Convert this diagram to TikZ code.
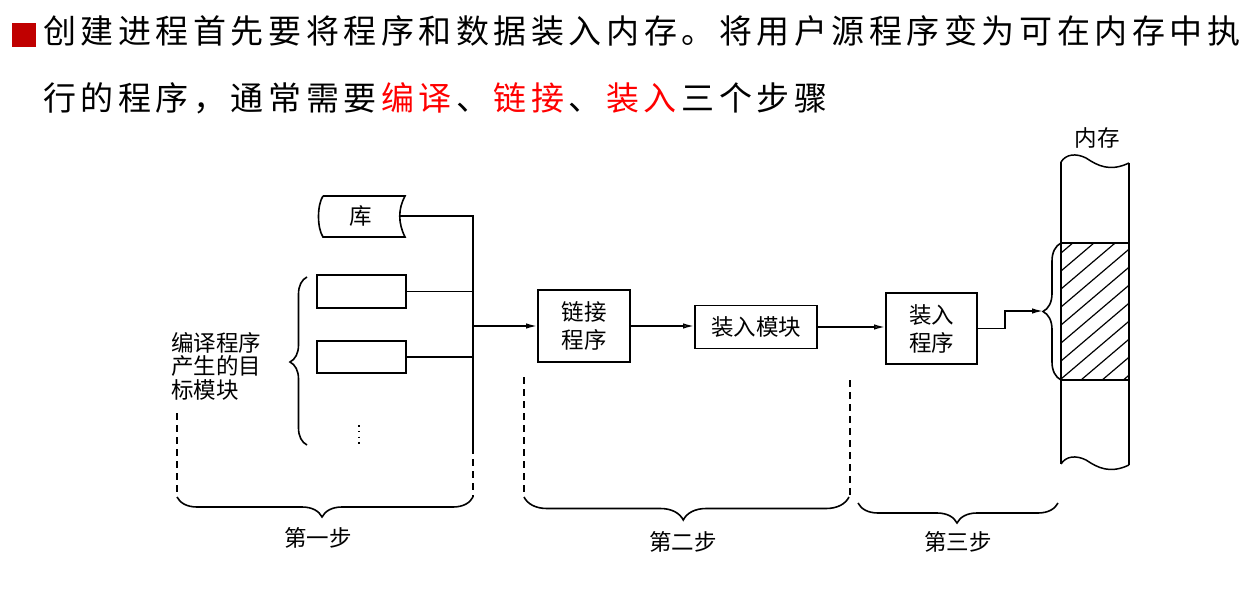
\documentclass[tikz,border=0pt]{standalone}
\usepackage{fontspec}
\setmainfont{Noto Sans CJK SC}
\usetikzlibrary{arrows.meta,decorations.pathreplacing}
\definecolor{bulletred}{HTML}{C00000}
\definecolor{hlred}{HTML}{FF0000}
\def\spc#1{\ifx#1\relax\else#1\hskip4.55pt\expandafter\spc\fi}
\begin{document}
\begin{tikzpicture}[x=1pt,y=-1pt,
  ln/.style={line width=1.5pt},
  box/.style={draw, line width=1.9pt, inner sep=0pt, align=center, font=\fontsize{22.5}{28}\selectfont},
  lbl/.style={font=\fontsize{22.5}{28}\selectfont, align=center, inner sep=0pt},
  dsh/.style={line width=1.5pt, dash pattern=on 7pt off 5pt},
  arr/.style={line width=1.5pt, -{Latex[length=11pt,width=5.5pt]}},
  arro/.style={line width=1.5pt, -{Latex[open,length=11pt,width=5.5pt]}},
  head/.style={anchor=base west, inner sep=0pt, font=\fontsize{33}{40}\selectfont},
]
\fill[white] (0,0) rectangle (1241,593);
\useasboundingbox (0,0) rectangle (1241,593);

% heading
\fill[bulletred] (12,23) rectangle (36,47);
\node[head] (h1) at (43,44) {\spc 创建进程首先要将程序和数据装入内存。将用户源程序变为可在内存中执\relax};
\node[head] (h2) at (43,111) {\spc 行的程序，通常需要\relax\textcolor{hlred}{\spc 编译\relax}\spc 、\relax\textcolor{hlred}{\spc 链接\relax}\spc 、\relax\textcolor{hlred}{\spc 装入\relax}\spc 三个步骤\relax};

% library
\node[lbl] (lib) at (361,216) {库};
\draw[line width=1.6pt] (323,196) -- (405,196) .. controls (398,209) and (398,223) .. (405,237) -- (323,237) .. controls (317,228) and (317,205) .. (323,196);

% object modules
\node[box, minimum width=89pt, minimum height=33pt] (mod1) at (361.5,291.5) {};
\node[box, minimum width=89pt, minimum height=32pt] (mod2) at (361.5,357) {};
\draw[line width=1.8pt, dash pattern=on 1.6pt off 4.2pt] (359,425) -- (359,447);

% bus
\coordinate (libR) at (400,216);
\coordinate (busTop) at (473,216);
\coordinate (busBot) at (473,447);
\coordinate (busEnd) at (473,497);
\coordinate (busOut) at (473,326);
\draw[ln] (libR) -- (busTop) -- (busBot);
\draw[dsh] (busBot) -- (busEnd);
\draw[ln] (mod1.east) -- (mod1.east -| busTop);
\draw[ln] (mod2.east) -- (mod2.east -| busTop);

% left label and brace
\node[lbl, align=left, anchor=west, font=\fontsize{22.5}{23.5}\selectfont] (objtxt) at (171,366) {编译程序\\产生的目\\标模块};
\draw[line width=1.6pt, decorate, decoration={brace, amplitude=17pt, aspect=0.494}] (307,445) -- (307,277);
\draw[dsh] (177,413) -- (177,497);

% main chain
\node[box, minimum width=92pt, minimum height=72pt] (link) at (584,326) {链接\\程序};
\node[box, minimum width=122pt, minimum height=43pt] (loadmod) at (756,327) {装入模块};
\node[box, minimum width=91pt, minimum height=71pt] (loader) at (931.5,328.5) {装入\\程序};
\draw[arr] (busOut) -- (link.west);
\draw[arro] (link.east) -- (link.east -| loadmod.west);
\draw[arro] (loadmod.east) -- (loadmod.east -| loader.west);

% memory
\node[lbl] (mem) at (1097,138) {内存};
\draw[ln] (1061,162) -- (1061,464);
\draw[ln] (1129,163) -- (1129,465);
\draw[ln] (1061,162) .. controls (1066,154) and (1076,153) .. (1086,158) .. controls (1098,166) and (1110,172) .. (1129,163);
\draw[ln] (1061,464) .. controls (1066,456) and (1076,455) .. (1086,460) .. controls (1098,468) and (1110,474) .. (1129,465);
\draw[ln] (1061,243) -- (1129,243);
\draw[ln] (1061,380) -- (1129,380);
\begin{scope}
\clip (1061,243) rectangle (1129,380);
\foreach \k in {0,...,11} \draw[line width=1.2pt] (1061,{253+18*\k}) -- ++(100,-85);
\end{scope}
\draw[line width=1.6pt, decorate, decoration={brace, amplitude=18pt, aspect=0.5}] (1061,380) -- (1061,243);
\coordinate (stepc) at (1005,311);
\coordinate (memtip) at (1043,311);
\draw[arr] (loader.east) -| (stepc) -- (memtip);

% step boundaries
\draw[dsh] (524,377) -- (524,497);
\draw[dsh] (850,380) -- (850,497);

% bottom braces
\draw[line width=1.6pt, decorate, decoration={brace, amplitude=20pt, aspect=0.51}] (473,497) -- (177,497);
\draw[line width=1.6pt, decorate, decoration={brace, amplitude=23pt, aspect=0.51}] (849,497) -- (524,497);
\draw[line width=1.6pt, decorate, decoration={brace, amplitude=20pt, aspect=0.505}] (1058,503) -- (858,503);
\node[lbl] (s1) at (318,538) {第一步};
\node[lbl] (s2) at (683,542) {第二步};
\node[lbl] (s3) at (958,542) {第三步};
\end{tikzpicture}
\end{document}
